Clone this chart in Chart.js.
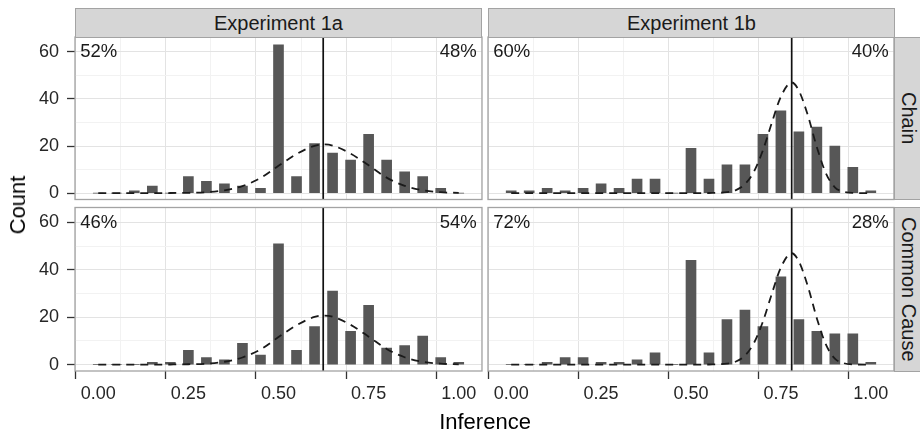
<!DOCTYPE html>
<html>
<head>
<meta charset="utf-8">
<script src="https://cdn.jsdelivr.net/npm/chart.js@4/dist/chart.umd.min.js"></script>
<style>
  html, body { margin: 0; padding: 0; background: #ffffff; }
  #wrap { position: relative; width: 920px; height: 433px; overflow: hidden;
          font-family: "Liberation Sans", Arial, Helvetica, sans-serif; color: #1a1a1a; }
  #wrap canvas { position: absolute; left: 0; top: 0; }
  .strip { position: absolute; box-sizing: border-box; background: #d6d6d6;
           border: 1px solid #a3a3a3; display: flex; align-items: center;
           justify-content: center; font-size: 20px; color: #1a1a1a; }
  .strip.side span { writing-mode: vertical-rl; }
  .title { position: absolute; font-size: 22px; color: #000; white-space: nowrap; }
</style>
</head>
<body>
<div id="wrap">
  <canvas id="pTL" width="920" height="433"></canvas>
  <canvas id="pTR" width="920" height="433"></canvas>
  <canvas id="pBL" width="920" height="433"></canvas>
  <canvas id="pBR" width="920" height="433"></canvas>

  <div class="strip" style="left:75px;top:8px;width:407px;height:30px;"><span>Experiment 1a</span></div>
  <div class="strip" style="left:488px;top:8px;width:407px;height:30px;"><span>Experiment 1b</span></div>
  <div class="strip side" style="left:894px;top:37px;width:28px;height:163px;"><span>Chain</span></div>
  <div class="strip side" style="left:894px;top:207px;width:28px;height:165px;"><span>Common Cause</span></div>

  <div class="title" style="left:18px;top:205px;transform:translate(-50%,-50%) rotate(-90deg);">Count</div>
  <div class="title" style="left:485px;top:422px;transform:translate(-50%,-50%);">Inference</div>
</div>

<script>
// Histogram bin centres (inference values)
const binCenters = [0.00, 0.05, 0.10, 0.15, 0.20, 0.25, 0.30, 0.35, 0.40, 0.45, 0.50,
                    0.55, 0.60, 0.65, 0.70, 0.75, 0.80, 0.85, 0.90, 0.95, 1.00];

// Counts per bin
const chain1a  = [0, 0, 1, 3, 0, 7, 5, 4, 3, 2, 63, 7, 21, 17, 14, 25, 14, 9, 7, 2, 0];
const chain1b  = [1, 1, 2, 1, 2, 4, 2, 6, 6, 0, 19, 6, 12, 12, 25, 35, 26, 28, 20, 11, 1];
const common1a = [0, 0, 0, 1, 1, 6, 3, 2, 9, 4, 51, 6, 16, 31, 14, 25, 7, 8, 12, 3, 1];
const common1b = [0, 0, 1, 3, 3, 1, 1, 2, 5, 0, 44, 5, 19, 23, 16, 37, 19, 14, 13, 13, 1];

// Model prediction curves (dashed)
const curveX1a = [0, 0.05, 0.10, 0.15, 0.20, 0.25, 0.30, 0.35, 0.40, 0.45, 0.50, 0.55,
                  0.60, 0.624, 0.65, 0.70, 0.75, 0.80, 0.85, 0.90, 0.95, 1.00];
const curveY1a = [0, 0, 0, 0, 0.05, 0.15, 0.4, 1.2, 3.0, 6.4, 11.6, 16.6,
                  20.1, 20.7, 20.2, 16.8, 11.8, 6.6, 3.1, 1.2, 0.4, 0.1];
const curveX1b = [0, 0.10, 0.20, 0.30, 0.40, 0.50, 0.55, 0.60, 0.625, 0.65, 0.675, 0.70,
                  0.725, 0.75, 0.78, 0.80, 0.825, 0.85, 0.875, 0.90, 0.925, 0.95, 1.00];
const curveY1b = [0, 0, 0, 0, 0, 0, 0.05, 0.4, 1.3, 3.8, 9.1, 18.2,
                  30, 41, 47, 43.5, 33, 19.5, 8.5, 2.5, 0.6, 0.1, 0];

// Mean inference (solid vertical line)
const mean1a = 0.624;
const mean1b = 0.78;

// Share of responses below / above the midpoint
const pctChain1a  = ['52%', '48%'];
const pctChain1b  = ['60%', '40%'];
const pctCommon1a = ['46%', '54%'];
const pctCommon1b = ['72%', '28%'];

// Axis ticks
const xTickValues = [0, 0.25, 0.5, 0.75, 1];
const xTickLabels = ['0.00', '0.25', '0.50', '0.75', '1.00'];
const yTickValues = [0, 20, 40, 60];
const yTickLabels = ['0', '20', '40', '60'];

const FONT = "'Liberation Sans', Arial, Helvetica, sans-serif";
const W = 920, H = 433;

function findTick(values, v) {
  for (let i = 0; i < values.length; i++) if (Math.abs(values[i] - v) < 1e-6) return i;
  return -1;
}
function isMajor(values, c) {
  return !!(c && c.tick) && findTick(values, c.tick.value) >= 0;
}

const panelDecor = {
  id: 'panelDecor',
  afterDatasetsDraw(chart, args, opts) {
    const { ctx, chartArea: a, scales } = chart;
    ctx.save();
    ctx.font = '18.5px ' + FONT;
    ctx.fillStyle = '#1a1a1a';
    ctx.textBaseline = 'middle';
    const y = scales.y.getPixelForValue(60);
    ctx.textAlign = 'left';
    ctx.fillText(opts.pct[0], scales.x.getPixelForValue(-0.05), y);
    ctx.textAlign = 'right';
    ctx.fillText(opts.pct[1], scales.x.getPixelForValue(1.05), y);
    ctx.strokeStyle = '#a3a3a3';
    ctx.lineWidth = 1.3;
    ctx.strokeRect(a.left, a.top, a.right - a.left, a.bottom - a.top);
    ctx.restore();
  }
};

function makePanel(id, counts, cx, cy, mean, pct, area, showX, showY) {
  const yAxisW = showY ? 75 : 0;
  const xAxisH = showX ? 30 : 0;
  const bars = binCenters.map((x, i) => ({ x: x, y: counts[i] }));
  const curve = cx.map((x, i) => ({ x: x, y: cy[i] }));
  const vline = [{ x: mean, y: -10 }, { x: mean, y: 80 }];

  new Chart(document.getElementById(id), {
    type: 'bar',
    data: {
      datasets: [
        { type: 'bar', data: bars, backgroundColor: '#575757', barThickness: 10,
          borderWidth: 0, order: 3 },
        { type: 'line', data: curve, borderColor: '#1a1a1a', borderWidth: 1.8,
          borderDash: [8, 6], pointRadius: 0, cubicInterpolationMode: 'monotone',
          fill: false, order: 2 },
        { type: 'line', data: vline, borderColor: '#111111', borderWidth: 1.7,
          pointRadius: 0, fill: false, order: 1 }
      ]
    },
    options: {
      responsive: false,
      animation: false,
      devicePixelRatio: 1,
      events: [],
      layout: {
        padding: {
          left: area.left - yAxisW,
          right: W - area.right,
          top: area.top,
          bottom: H - area.bottom - xAxisH
        }
      },
      plugins: {
        legend: { display: false },
        tooltip: { enabled: false },
        panelDecor: { pct: pct }
      },
      scales: {
        x: {
          type: 'linear',
          position: 'bottom',
          offset: false,
          min: -0.0645,
          max: 1.0645,
          border: { display: false },
          grid: {
            drawTicks: showX,
            tickLength: 8,
            tickWidth: 1.3,
            lineWidth: 1,
            color: c => isMajor(xTickValues, c) ? '#e3e3e3' : '#f2f2f2',
            tickColor: c => isMajor(xTickValues, c) ? '#333333' : 'rgba(0,0,0,0)'
          },
          ticks: {
            display: showX,
            stepSize: 0.125,
            includeBounds: false,
            autoSkip: false,
            maxRotation: 0,
            padding: 4,
            color: '#262626',
            font: { family: FONT, size: 18 },
            callback: v => { const i = findTick(xTickValues, v); return i >= 0 ? xTickLabels[i] : ''; }
          },
          afterFit: s => { s.height = xAxisH; }
        },
        y: {
          type: 'linear',
          position: 'left',
          min: -2.7,
          max: 66.3,
          border: { display: false },
          grid: {
            drawTicks: showY,
            tickLength: 8,
            tickWidth: 1.3,
            lineWidth: 1,
            color: c => isMajor(yTickValues, c) ? '#e3e3e3' : '#f2f2f2',
            tickColor: c => isMajor(yTickValues, c) ? '#333333' : 'rgba(0,0,0,0)'
          },
          ticks: {
            display: showY,
            stepSize: 10,
            includeBounds: false,
            autoSkip: false,
            padding: 8,
            color: '#262626',
            font: { family: FONT, size: 18 },
            callback: v => { const i = findTick(yTickValues, v); return i >= 0 ? yTickLabels[i] : ''; }
          },
          afterFit: s => { s.width = yAxisW; }
        }
      }
    },
    plugins: [panelDecor]
  });
}

const colLeft  = { left: 75,  right: 482 };
const colRight = { left: 488, right: 894 };
const rowTop    = { top: 37,  bottom: 199.5 };
const rowBottom = { top: 207.5, bottom: 371 };

makePanel('pTL', chain1a,  curveX1a, curveY1a, mean1a, pctChain1a,
          { ...colLeft,  ...rowTop },    false, true);
makePanel('pTR', chain1b,  curveX1b, curveY1b, mean1b, pctChain1b,
          { ...colRight, ...rowTop },    false, false);
makePanel('pBL', common1a, curveX1a, curveY1a, mean1a, pctCommon1a,
          { ...colLeft,  ...rowBottom }, true,  true);
makePanel('pBR', common1b, curveX1b, curveY1b, mean1b, pctCommon1b,
          { ...colRight, ...rowBottom }, true,  false);
</script>
</body>
</html>
